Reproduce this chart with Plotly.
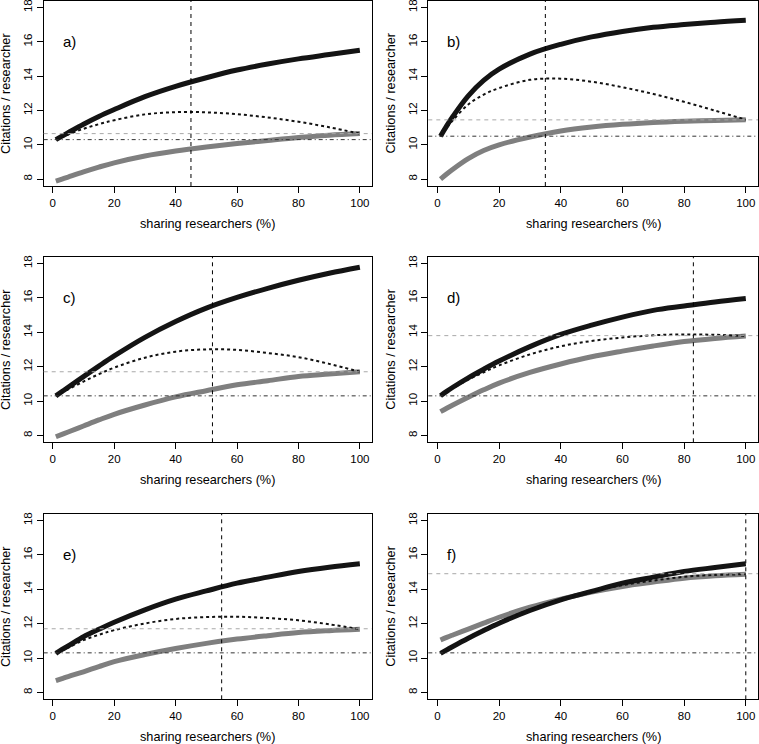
import plotly.graph_objects as go

W, H = 759, 744

# shared x positions (sharing researchers, %)
X = [1, 3, 5, 10, 15, 20, 30, 40, 50, 60, 70, 80, 90, 100]

panel_labels = ["a)", "b)", "c)", "d)", "e)", "f)"]

# upper (black) curves
upper_a = [10.3, 10.5, 10.7, 11.2, 11.65, 12.05, 12.8, 13.4, 13.9, 14.35, 14.7, 15.0, 15.25, 15.5]
upper_b = [10.5, 11.1, 11.65, 12.85, 13.75, 14.4, 15.28, 15.85, 16.28, 16.6, 16.84, 17.0, 17.14, 17.25]
upper_c = [10.3, 10.55, 10.8, 11.42, 12.03, 12.62, 13.7, 14.62, 15.4, 16.02, 16.55, 17.02, 17.43, 17.78]
upper_d = [10.3, 10.56, 10.8, 11.35, 11.85, 12.32, 13.16, 13.87, 14.41, 14.88, 15.27, 15.52, 15.76, 15.96]
upper_e = [10.27, 10.5, 10.7, 11.24, 11.67, 12.08, 12.8, 13.42, 13.9, 14.35, 14.7, 15.03, 15.28, 15.48]
upper_f = [10.27, 10.47, 10.67, 11.15, 11.6, 12.02, 12.76, 13.38, 13.87, 14.35, 14.7, 15.03, 15.26, 15.48]

# lower (grey) curves
lower_a = [7.88, 8.0, 8.12, 8.42, 8.7, 8.95, 9.35, 9.64, 9.87, 10.07, 10.25, 10.42, 10.55, 10.65]
lower_b = [8.0, 8.3, 8.58, 9.2, 9.67, 10.0, 10.45, 10.8, 11.03, 11.19, 11.3, 11.37, 11.42, 11.46]
lower_c = [7.92, 8.06, 8.2, 8.55, 8.9, 9.23, 9.77, 10.24, 10.6, 10.94, 11.18, 11.43, 11.57, 11.7]
lower_d = [9.38, 9.58, 9.77, 10.22, 10.65, 11.04, 11.66, 12.15, 12.57, 12.9, 13.2, 13.46, 13.64, 13.78]
lower_e = [8.68, 8.8, 8.92, 9.2, 9.5, 9.79, 10.2, 10.55, 10.85, 11.1, 11.3, 11.48, 11.59, 11.67]
lower_f = [11.05, 11.2, 11.34, 11.68, 12.03, 12.37, 12.95, 13.42, 13.83, 14.16, 14.41, 14.64, 14.78, 14.87]

# middle (dotted) curves
mid_a = [10.3, 10.45, 10.6, 10.93, 11.2, 11.43, 11.77, 11.9, 11.89, 11.78, 11.59, 11.34, 11.02, 10.65]
mid_b = [10.47, 11.0, 11.42, 12.35, 12.92, 13.3, 13.78, 13.85, 13.67, 13.35, 12.96, 12.5, 11.99, 11.46]
mid_c = [10.3, 10.48, 10.67, 11.13, 11.56, 11.94, 12.52, 12.87, 13.0, 12.97, 12.79, 12.55, 12.16, 11.7]
mid_d = [10.3, 10.53, 10.75, 11.24, 11.67, 12.07, 12.71, 13.18, 13.49, 13.69, 13.82, 13.87, 13.85, 13.78]
mid_e = [10.27, 10.45, 10.6, 11.04, 11.35, 11.62, 12.01, 12.27, 12.38, 12.4, 12.32, 12.19, 11.96, 11.67]
mid_f = [10.27, 10.5, 10.7, 11.2, 11.67, 12.09, 12.82, 13.4, 13.85, 14.24, 14.5, 14.72, 14.83, 14.87]

# reference lines
vline_x = [45, 35, 52, 83, 55, 100]
grey_h = [10.65, 11.45, 11.7, 13.8, 11.7, 14.9]
base_h = [10.3, 10.5, 10.3, 10.3, 10.3, 10.3]

x_ticks = [0, 20, 40, 60, 80, 100]
y_ticks = [8, 10, 12, 14, 16, 18]
x_title = "sharing researchers (%)"
y_title = "Citations / researcher"

uppers = [upper_a, upper_b, upper_c, upper_d, upper_e, upper_f]
lowers = [lower_a, lower_b, lower_c, lower_d, lower_e, lower_f]
mids = [mid_a, mid_b, mid_c, mid_d, mid_e, mid_f]

# layout geometry in pixels
cols_px = [(43.7, 372.0), (428.3, 758.0)]
rows_px = [(0.5, 186.0), (256.5, 442.3), (513.5, 699.3)]

FONT = "Liberation Sans, Arial, Helvetica, sans-serif"

fig = go.Figure()
layout = dict(
    width=W, height=H,
    margin=dict(l=0, r=0, t=0, b=0),
    paper_bgcolor="white", plot_bgcolor="white",
    showlegend=False,
    font=dict(family=FONT, size=12, color="black"),
)
annotations = []
shapes = []

for i in range(6):
    r, c = divmod(i, 2)
    xa = "x" if i == 0 else f"x{i+1}"
    ya = "y" if i == 0 else f"y{i+1}"
    xk = "xaxis" if i == 0 else f"xaxis{i+1}"
    yk = "yaxis" if i == 0 else f"yaxis{i+1}"
    l, rr = cols_px[c]
    t, b = rows_px[r]
    xd = [l / W, rr / W]
    yd = [1 - b / H, 1 - t / H]
    axis_common = dict(showgrid=False, zeroline=False, showline=True, linecolor="black",
                       linewidth=1, mirror=True, ticks="outside", ticklen=6, tickwidth=1,
                       tickcolor="black", ticklabeloverflow="allow",
                       tickfont=dict(family=FONT, size=11.5, color="black"))
    layout[xk] = dict(domain=xd, range=[-2.96, 103.96], tickvals=x_ticks, anchor=ya, **axis_common)
    layout[yk] = dict(domain=yd, range=[7.6, 18.4], tickvals=y_ticks, tickangle=-90, anchor=xa, **axis_common)

    # horizontal reference lines
    shapes.append(dict(type="line", xref=f"{xa} domain", yref=ya, x0=0, x1=1,
                       y0=grey_h[i], y1=grey_h[i], line=dict(color="#a8a8a8", width=1, dash="4px,4px")))
    shapes.append(dict(type="line", xref=f"{xa} domain", yref=ya, x0=0, x1=1,
                       y0=base_h[i], y1=base_h[i], line=dict(color="#333333", width=1, dash="4px,3px,1px,3px")))
    shapes.append(dict(type="line", xref=xa, yref=f"{ya} domain", x0=vline_x[i], x1=vline_x[i],
                       y0=0, y1=1, line=dict(color="black", width=1, dash="4px,4px")))

    fig.add_trace(go.Scatter(x=X, y=lowers[i], mode="lines", xaxis=xa, yaxis=ya,
                             line=dict(color="#7f7f7f", width=5, shape="spline"), hoverinfo="skip"))
    fig.add_trace(go.Scatter(x=X, y=uppers[i], mode="lines", xaxis=xa, yaxis=ya,
                             line=dict(color="#141414", width=5, shape="spline"), hoverinfo="skip"))
    fig.add_trace(go.Scatter(x=X, y=mids[i], mode="lines", xaxis=xa, yaxis=ya,
                             line=dict(color="#111111", width=2, dash="dot", shape="spline"), hoverinfo="skip"))

    annotations.append(dict(x=2.6, y=16.0, xref=xa, yref=ya, text=panel_labels[i], showarrow=False,
                            xanchor="left", yanchor="middle", font=dict(family=FONT, size=15, color="black")))
    annotations.append(dict(x=(l + rr) / 2 / W, y=1 - (b + 38) / H, xref="paper", yref="paper",
                            text=x_title, showarrow=False, xanchor="center", yanchor="middle",
                            font=dict(family=FONT, size=12.7, color="black")))
    annotations.append(dict(x=(l - 37) / W, y=1 - (t + b) / 2 / H, xref="paper", yref="paper",
                            text=y_title, showarrow=False, textangle=-90, xanchor="center", yanchor="middle",
                            font=dict(family=FONT, size=12.7, color="black")))

layout["annotations"] = annotations
layout["shapes"] = shapes
fig.update_layout(**layout)
fig.write_html("out.html", config={"displayModeBar": False},
               post_script="document.body.style.margin='0px';document.body.style.overflow='hidden';")
